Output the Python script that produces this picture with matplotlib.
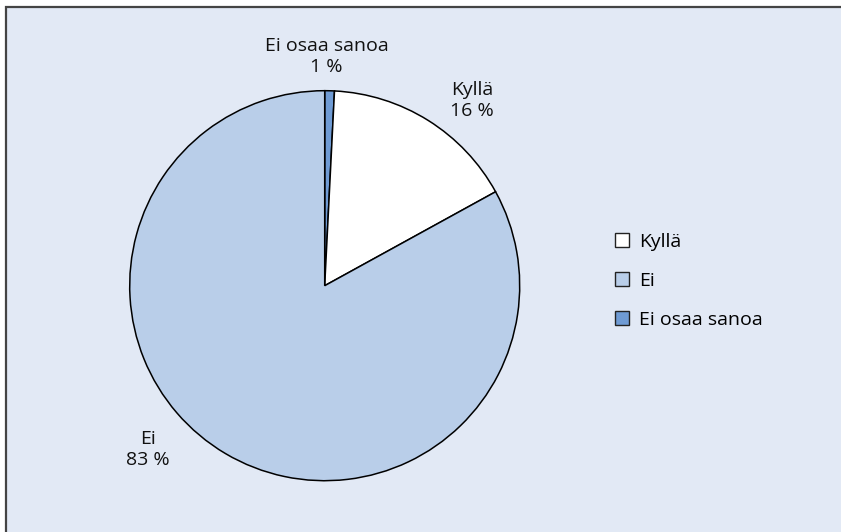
import matplotlib
matplotlib.use("Agg")
import matplotlib.pyplot as plt
from matplotlib.patches import Rectangle, Patch

plt.rcParams['font.family'] = ['Open Sans', 'DejaVu Sans']

categories = ["Kyllä", "Ei", "Ei osaa sanoa"]
values = [16.2, 83.0, 0.8]
pct_labels = ["16 %", "83 %", "1 %"]
colors = ["#FFFFFF", "#B9CEE9", "#6F9BD4"]
# drawing order (clockwise from 12 o'clock)
draw_order = [2, 0, 1]
label_pos = {0: (0.755, 0.95), 1: (-0.905, -0.84), 2: (0.01, 1.175)}

W, H = 841, 532
fig = plt.figure(figsize=(W / 100, H / 100), dpi=100)
fig.patch.set_facecolor("white")

# frame
fig.patches.append(Rectangle((5.5 / W, -0.05), 1.1, 1 - 6.5 / H + 0.05,
                             transform=fig.transFigure, facecolor="#E2E9F5",
                             edgecolor="#444444", linewidth=1.6, zorder=-5))

cx, cy, r = 324.7, 285.7, 195.0
ax = fig.add_axes([(cx - r) / W, (H - cy - r) / H, 2 * r / W, 2 * r / H])
ax.set_facecolor("none")
ax.set_zorder(2)

vals = [values[i] for i in draw_order]
cols = [colors[i] for i in draw_order]
wedges, _ = ax.pie(vals, colors=cols, startangle=90, counterclock=False,
                   wedgeprops=dict(edgecolor="black", linewidth=1.1))
ax.set_xlim(-1, 1)
ax.set_ylim(-1, 1)
ax.set_aspect("equal")

fs = 14
for i, cat in enumerate(categories):
    x, y = label_pos[i]
    ax.text(x, y, f"{cat}\n{pct_labels[i]}", ha="center", va="center",
            fontsize=fs, color="#111111", linespacing=1.2, clip_on=False)

handles = [Patch(facecolor=colors[i], edgecolor="#222222", linewidth=1.0)
           for i in range(len(categories))]
leg = fig.legend(handles, categories, loc="center left",
                 bbox_to_anchor=(597 / W, 1 - 281 / H), frameon=False,
                 fontsize=fs, handlelength=0.75, handleheight=0.75,
                 handletextpad=0.5, labelspacing=1.08)
leg.set_zorder(3)

fig.savefig("out.png", dpi=100)
